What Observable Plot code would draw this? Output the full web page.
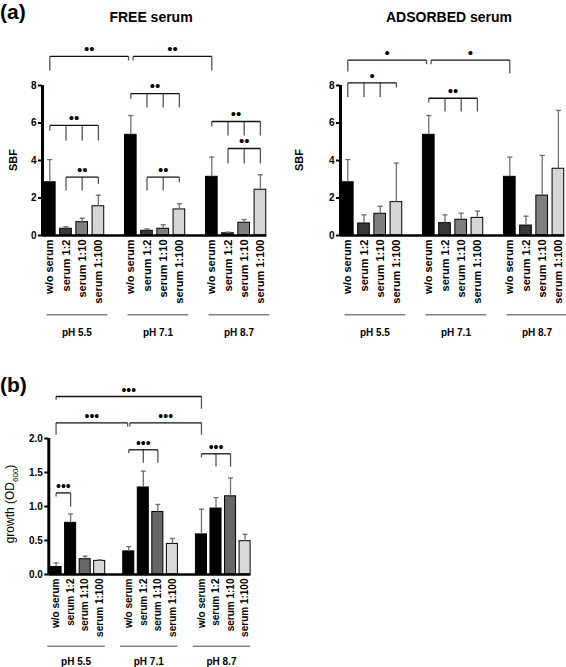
<!DOCTYPE html>
<html><head><meta charset="utf-8">
<script src="https://cdn.jsdelivr.net/npm/d3@7"></script>
<script src="https://cdn.jsdelivr.net/npm/@observablehq/plot@0.6"></script>
<style>
body{margin:0;background:#fff;}
#root{position:relative;width:566px;height:667px;overflow:hidden;font-family:"Liberation Sans",Arial,sans-serif;color:#000;background:#fff;}
.abs{position:absolute;white-space:nowrap;line-height:1;}
.rot{transform:translate(-50%,-50%) rotate(-90deg);}
#root svg{position:absolute;}
</style></head><body><div id="root">
<div class="abs" style="left:0;top:1px;font-size:21px;font-weight:bold">(a)</div>
<div class="abs" style="left:51px;width:200px;text-align:center;top:10px;font-size:14px;font-weight:bold">FREE serum</div>
<div class="abs" style="left:349px;width:200px;text-align:center;top:10px;font-size:14px;font-weight:bold">ADSORBED serum</div>
<div class="abs rot" style="left:13px;top:160px;font-size:11px;font-weight:bold">SBF</div>
<div class="abs rot" style="left:299px;top:160px;font-size:11px;font-weight:bold">SBF</div>
<div class="abs" style="left:0;top:374px;font-size:21px;font-weight:bold">(b)</div>
<div class="abs rot" style="left:12px;top:504px;font-size:12px;">growth (OD<sub style="font-size:8px">600</sub>)</div>
</div>
<script>
const groups = ["pH 5.5", "pH 7.1", "pH 8.7"];
const series = ["w/o serum", "serum 1:2", "serum 1:10", "serum 1:100"];

// (a) FREE serum – SBF mean and SD, [group][series]
const freeMean = [[2.84, 0.36, 0.71, 1.56], [5.37, 0.25, 0.36, 1.39], [3.13, 0.12, 0.68, 2.44]];
const freeErr  = [[1.21, 0.11, 0.21, 0.59], [1.03, 0.10, 0.21, 0.30], [1.05, 0.06, 0.17, 0.80]];
// (a) ADSORBED serum
const adsMean = [[2.84, 0.64, 1.16, 1.78], [5.37, 0.66, 0.84, 0.94], [3.13, 0.53, 2.13, 3.56]];
const adsErr  = [[1.21, 0.46, 0.40, 2.08], [1.03, 0.44, 0.35, 0.36], [1.05, 0.50, 2.14, 3.11]];
// (b) growth OD600
const growthMean = [[0.11, 0.76, 0.225, 0.20], [0.34, 1.28, 0.92, 0.45], [0.59, 0.97, 1.15, 0.49]];
const growthErr  = [[0.06, 0.13, 0.045, 0.015], [0.07, 0.24, 0.11, 0.08], [0.37, 0.16, 0.27, 0.10]];

const sbfTicks = [0, 2, 4, 6, 8];
const growthTicks = [0, 0.5, 1.0, 1.5, 2.0];

// significance brackets: legs = [group, series, leg bottom value]
const freeBrackets = [
  {label: "••", level: 9.55, legs: [[0,0,8.8],[1,0,9.33]]},
  {label: "••", level: 9.55, legs: [[1,0,9.33],[2,0,8.8]]},
  {label: "••", level: 5.87, legs: [[0,0,5.6],[0,1,5.07],[0,2,5.07],[0,3,5.07]]},
  {label: "••", level: 3.11, legs: [[0,1,2.4],[0,2,2.4],[0,3,2.75]]},
  {label: "••", level: 7.57, legs: [[1,0,7.3],[1,1,6.83],[1,2,6.83],[1,3,6.83]]},
  {label: "••", level: 3.11, legs: [[1,1,2.4],[1,2,2.4],[1,3,2.84]]},
  {label: "••", level: 6.08, legs: [[2,0,5.81],[2,1,5.33],[2,2,5.33],[2,3,5.33]]},
  {label: "••", level: 4.64, legs: [[2,1,3.84],[2,2,3.84],[2,3,3.84]]}
];
const adsBrackets = [
  {label: "•", level: 9.35, legs: [[0,0,8.75],[1,0,9.14]]},
  {label: "•", level: 9.35, legs: [[1,0,9.14],[2,0,8.64]]},
  {label: "•", level: 8.14, legs: [[0,0,7.38],[0,1,7.38],[0,2,7.38],[0,3,7.89]]},
  {label: "••", level: 7.32, legs: [[1,0,7.09],[1,1,6.61],[1,2,6.61],[1,3,6.61]]}
];
const growthBrackets = [
  {label: "•••", level: 2.618, legs: [[0,0,2.569],[2,0,2.437]]},
  {label: "•••", level: 2.231, legs: [[0,0,2.054],[1,0,2.176]]},
  {label: "•••", level: 2.231, legs: [[1,0,2.176],[2,0,2.054]]},
  {label: "•••", level: 1.834, legs: [[1,0,1.784],[1,1,1.643],[1,2,1.643]]},
  {label: "•••", level: 1.775, legs: [[2,0,1.72],[2,1,1.588],[2,2,1.588]]},
  {label: "•••", level: 1.2, legs: [[0,0,1.147],[0,1,1.0]]}
];

const colorsA = ["#000000", "#383838", "#7f7f7f", "#d6d6d6"];
const colorsB = ["#000000", "#000000", "#666666", "#d9d9d9"];

const FONT = "'Liberation Sans', Arial, sans-serif";

function panel(o) {
  const step = 5; // 4 bars + 1 gap slot per group
  const posOf = (gi, si) => gi * step + si;
  const rows = [];
  groups.forEach((g, gi) => series.forEach((s, si) =>
    rows.push({pos: posOf(gi, si), group: g, series: s, value: o.mean[gi][si], err: o.err[gi][si]})));
  const positions = rows.map(d => d.pos);
  const labelAt = new Map(rows.map(d => [d.pos, d.series]));
  const lastPos = d3.max(positions);

  // brackets
  const horiz = [], legs = [];
  const same = (a, b) => a[0] === b[0] && a[1] === b[1];
  o.brackets.forEach((b, bi) => {
    const n = b.legs.length;
    const xs = b.legs.map(([gi, si]) => posOf(gi, si));
    o.brackets.forEach((c, ci) => {
      if (ci === bi || c.level !== b.level) return;
      if (same(b.legs[0], c.legs[c.legs.length - 1])) xs[0] += o.gap;
      if (same(b.legs[n - 1], c.legs[0])) xs[n - 1] -= o.gap;
    });
    horiz.push({x1: xs[0], x2: xs[n - 1], y: b.level, label: b.label, mid: (xs[0] + xs[n - 1]) / 2});
    b.legs.forEach((l, i) => legs.push({x: xs[i], y1: b.level, y2: l[2]}));
  });

  const groupRows = groups.map((g, gi) => ({
    label: g, x1: posOf(gi, 0) + o.gl[0], x2: posOf(gi, 0) + o.gl[1]
  }));

  const svg = Plot.plot({
    width: o.width, height: o.height,
    marginLeft: o.ml, marginRight: o.mr, marginTop: o.mt, marginBottom: o.mb,
    x: {domain: o.xDomain},
    y: {domain: o.yDomain},
    color: {domain: series, range: o.colors},
    style: {fontFamily: FONT, background: "transparent", overflow: "visible", color: "#000"},
    marks: [
      Plot.rectY(rows, {x1: d => d.pos - o.hw, x2: d => d.pos + o.hw, y1: 0, y2: "value",
        fill: "series", stroke: "#000", strokeWidth: 1}),
      Plot.ruleX(rows, {x: "pos", y1: "value", y2: d => d.value + d.err, stroke: o.errColor, strokeWidth: 1.3}),
      Plot.link(rows, {x1: d => d.pos - o.cap, x2: d => d.pos + o.cap,
        y1: d => d.value + d.err, y2: d => d.value + d.err, stroke: o.errColor, strokeWidth: 1.3}),
      // axes
      Plot.ruleY([0], {x1: o.xDomain[0], x2: lastPos + 0.4, stroke: "#000", strokeWidth: 2.6}),
      Plot.ruleX([o.xDomain[0]], {x: d => d, y1: 0, y2: d3.max(o.yTicks), stroke: "#000", strokeWidth: 3}),
      Plot.axisY({ticks: o.yTicks, tickSize: 4, tickPadding: 2, tickFormat: o.yFormat, label: null,
        fontSize: o.fontY, fontWeight: "bold", strokeWidth: 2}),
      Plot.axisX({ticks: positions, tickFormat: p => labelAt.get(p), tickRotate: -90, tickSize: 0,
        tickPadding: 4, label: null, fontSize: o.fontX, fontWeight: "bold"}),
      // group labels
      Plot.link(groupRows, {x1: "x1", x2: "x2", y1: o.glY, y2: o.glY, stroke: "#444", strokeWidth: 1}),
      Plot.text(groupRows, {x: d => (d.x1 + d.x2) / 2, y: o.glTextY, text: "label",
        fontSize: o.fontG, fontWeight: "bold"}),
      // significance brackets
      Plot.link(legs, {x1: "x", x2: "x", y1: "y1", y2: "y2", stroke: "#555", strokeWidth: 1.3}),
      Plot.link(horiz, {x1: "x1", x2: "x2", y1: "y", y2: "y", stroke: "#111", strokeWidth: 1.3}),
      Plot.text(horiz, {x: "mid", y: "y", text: "label", dy: -o.starDy, fontSize: o.starSize, fill: "#000"})
    ]
  });
  svg.style.left = o.left + "px";
  svg.style.top = o.top + "px";
  document.getElementById("root").appendChild(svg);
}

const aLayout = {
  width: 268, height: 345, ml: 42, mr: 0, mt: 47.5, mb: 110,
  xDomain: [-0.45, 13.5], yDomain: [0, 10], yTicks: sbfTicks, yFormat: d => d,
  hw: 0.36, cap: 0.16, gap: 0.14, fontX: 11, fontY: 10, fontG: 10,
  glY: -4.23, glTextY: -5.17, gl: [-0.2, 3.55], starSize: 15, starDy: 7,
  errColor: "#707070", colors: colorsA, top: 0
};
panel({...aLayout, mean: freeMean, err: freeErr, brackets: freeBrackets, left: 0});
panel({...aLayout, mean: adsMean, err: adsErr, brackets: adsBrackets, left: 297.5});
panel({
  width: 270, height: 297, ml: 48.3, mr: 16.7, mt: 6.8, mb: 93,
  xDomain: [-0.5, 13.6], yDomain: [0, 2.9], yTicks: growthTicks, yFormat: d3.format(".1f"),
  hw: 0.38, cap: 0.17, gap: 0.08, fontX: 10, fontY: 10, fontG: 10,
  glY: -1.054, glTextY: -1.287, gl: [-0.6, 3.35], starSize: 14, starDy: 6,
  errColor: "#707070", colors: colorsB, top: 370, left: 0,
  mean: growthMean, err: growthErr, brackets: growthBrackets
});
</script>
</body></html>
